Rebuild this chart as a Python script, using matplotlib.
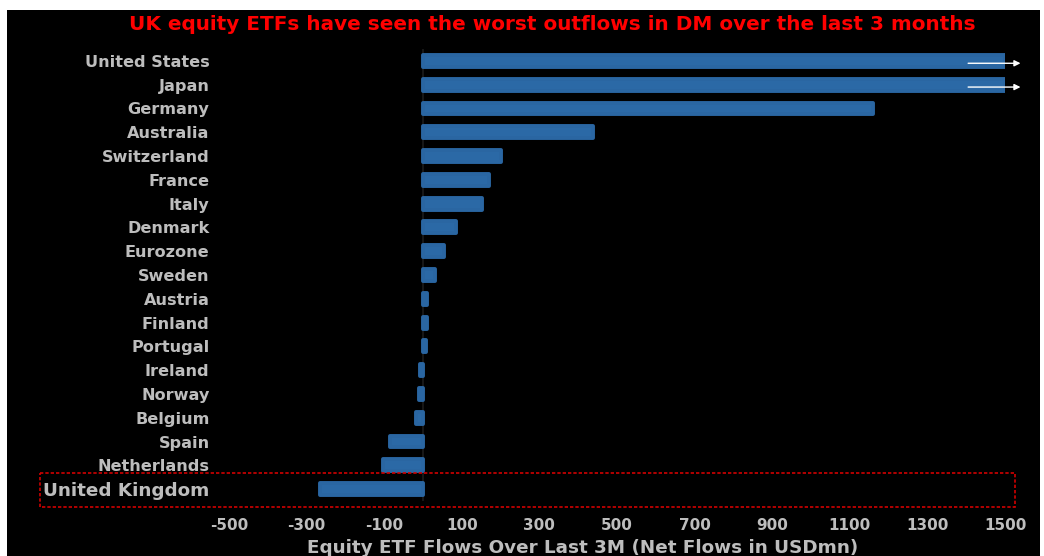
import matplotlib
matplotlib.use("Agg")
import matplotlib.pyplot as plt
from matplotlib.patches import Rectangle
import matplotlib.transforms as mtransforms

countries = ["United States", "Japan", "Germany", "Australia", "Switzerland", "France",
             "Italy", "Denmark", "Eurozone", "Sweden", "Austria", "Finland", "Portugal",
             "Ireland", "Norway", "Belgium", "Spain", "Netherlands", "United Kingdom"]
flows = [1500, 1500, 1160, 439, 202, 171, 152, 85, 55, 31, 10, 10, 8,
         -9, -11, -17, -84, -102, -265]
overflow = [True, True] + [False] * 17
xticks = [-500, -300, -100, 100, 300, 500, 700, 900, 1100, 1300, 1500]
title = "UK equity ETFs have seen the worst outflows in DM over the last 3 months"
xlabel = "Equity ETF Flows Over Last 3M (Net Flows in USDmn)"
highlight = "United Kingdom"

FONT = "DejaVu Sans"
GRAY = "#bdbdbd"

W, H = 1044, 556
fig = plt.figure(figsize=(W / 100, H / 100), dpi=100, facecolor="white")
# black panel
fig.patches.append(Rectangle((7 / W, 0), (1040 - 7) / W, (H - 10) / H,
                             transform=fig.transFigure, facecolor="black",
                             edgecolor="none", zorder=-10))

ax = fig.add_axes([229 / W, (H - 501) / H, 776 / W, 452 / H])
ax.set_facecolor("none")
n = len(countries)
y = list(range(n))
bar_color = "#2b69a6"
ax.barh(y, flows, height=0.5, color=bar_color, edgecolor="#2a66a2",
        linewidth=2.8, joinstyle="round", zorder=3)
ax.axvline(0, color="#1c1c1c", lw=1.2, zorder=1)
ax.set_xlim(-500, 1500)
ax.set_ylim(n - 0.5, -0.5)

for i, flag in enumerate(overflow):
    if flag:
        ax.annotate("", xy=(1540, i + 0.1), xytext=(1405, i + 0.1),
                    arrowprops=dict(arrowstyle="-|>", color="white", lw=1.0,
                                    mutation_scale=9, shrinkA=0, shrinkB=0),
                    annotation_clip=False, zorder=5)

ax.set_xticks(xticks)
ax.set_xticklabels([str(t) for t in xticks], fontfamily=FONT, fontweight="bold",
                   fontsize=11, color=GRAY)
ax.set_yticks(y)
ax.set_yticklabels(countries, fontfamily=FONT, fontweight="bold",
                   fontsize=11.6, color=GRAY)
for lbl in ax.get_yticklabels():
    if lbl.get_text() == highlight:
        lbl.set_fontsize(13.2)
ax.tick_params(axis="both", length=0)
ax.tick_params(axis="y", pad=14)
ax.tick_params(axis="x", pad=12)
for s in ax.spines.values():
    s.set_visible(False)

# highlight box around UK row
hi = countries.index(highlight)
trans = mtransforms.blended_transform_factory(ax.transAxes, ax.transData)
ax.add_patch(Rectangle((-0.2436, hi - 0.67), 1.2565, 1.43, transform=trans,
                       fill=False, edgecolor="#d00000", lw=1.2, ls=(0, (2, 1.2)),
                       clip_on=False, zorder=4))

fig.text(552 / W, 1 - 25 / H, title, color="#ff0000", fontfamily=FONT,
         fontweight="bold", fontsize=14.4, ha="center", va="center")
fig.text(583 / W, 1 - 539 / H, xlabel, color=GRAY, fontfamily=FONT,
         fontweight="bold", fontsize=13.2, ha="center", va="top")

fig.savefig("out.png", dpi=100, facecolor="white")
